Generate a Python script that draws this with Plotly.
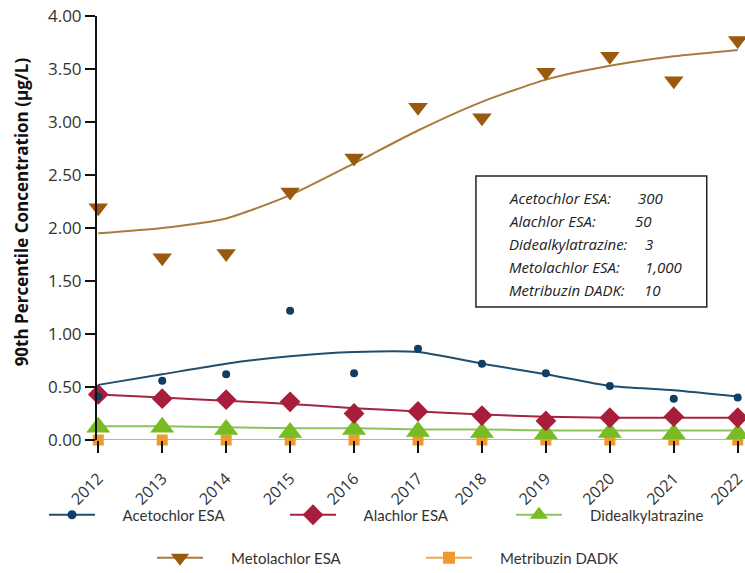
import plotly.graph_objects as go

years = [2012, 2013, 2014, 2015, 2016, 2017, 2018, 2019, 2020, 2021, 2022]

aceto_obs = [0.41, 0.56, 0.62, 1.22, 0.63, 0.86, 0.72, 0.63, 0.51, 0.39, 0.40]
aceto_trend = [0.52, 0.62, 0.72, 0.79, 0.83, 0.83, 0.72, 0.62, 0.51, 0.47, 0.41]

alach_obs = [0.43, 0.39, 0.38, 0.36, 0.25, 0.27, 0.23, 0.18, 0.21, 0.22, 0.21]
alach_trend = [0.43, 0.40, 0.37, 0.34, 0.30, 0.27, 0.24, 0.22, 0.21, 0.21, 0.21]

dideal_obs = [0.12, 0.12, 0.10, 0.07, 0.10, 0.08, 0.07, 0.06, 0.07, 0.06, 0.06]
dideal_trend = [0.13, 0.13, 0.12, 0.11, 0.11, 0.10, 0.10, 0.09, 0.09, 0.09, 0.09]

metol_obs = [2.19, 1.72, 1.76, 2.34, 2.66, 3.14, 3.04, 3.47, 3.62, 3.39, 3.77]
metol_trend = [1.95, 2.00, 2.09, 2.31, 2.61, 2.92, 3.19, 3.40, 3.53, 3.62, 3.68]

metri_obs = [0.0, 0.0, 0.0, 0.0, 0.0, 0.0, 0.0, 0.0, 0.0, 0.0, 0.0]
metri_trend = [0.0, 0.0, 0.0, 0.0, 0.0, 0.0, 0.0, 0.0, 0.0, 0.0, 0.0]

series_names = ["Acetochlor ESA", "Alachlor ESA", "Didealkylatrazine", "Metolachlor ESA", "Metribuzin DADK"]

box_labels = ["Acetochlor ESA:", "Alachlor ESA:", "Didealkylatrazine:", "Metolachlor ESA:", "Metribuzin DADK:"]
box_values = ["300", "50", "3", "1,000", "10"]
y_ticks = [0, 0.5, 1, 1.5, 2, 2.5, 3, 3.5, 4]
y_title = "90th Percentile Concentration (µg/L)"

W, H = 745, 573
X0, X1 = 2011.98, 2022.02
PX_PER_YEAR = 64.0
ML = 98 - (2012 - X0) * PX_PER_YEAR
MR = W - (738 + (X1 - 2022) * PX_PER_YEAR)
MT, MB = 16, 133
PW, PH = W - ML - MR, H - MT - MB

styles = [
    dict(line="#1F4E6E", marker="#0E3D66", symbol="circle", size=8, lsize=9, width=2),
    dict(line="#A3253F", marker="#A81D3A", symbol="diamond", size=16, lsize=16, width=2),
    dict(line="#8DC35C", marker="#78BB22", symbol="triangle-up", size=21, lsize=20, width=2),
    dict(line="#A97B3C", marker="#9A5A0E", symbol="triangle-down", size=17, lsize=16, width=2),
    dict(line="#F0A850", marker="#EE9A2E", symbol="square", size=11, lsize=12, width=2),
]
obs = [aceto_obs, alach_obs, dideal_obs, metol_obs, metri_obs]
trends = [aceto_trend, alach_trend, dideal_trend, metol_trend, metri_trend]

fig = go.Figure()
draw_order = [4, 2, 1, 0, 3]
for i in draw_order:
    s = styles[i]
    fig.add_trace(go.Scatter(x=years, y=trends[i], mode="lines", line=dict(color=s["line"], width=s["width"], shape="spline", smoothing=0.6),
                             showlegend=False, hoverinfo="skip", cliponaxis=False))
    fig.add_trace(go.Scatter(x=years, y=obs[i], mode="markers", marker=dict(color=s["marker"], symbol=s["symbol"], size=s["size"]),
                             showlegend=False, cliponaxis=False, name=series_names[i]))

# legend entries: each in its own legend so it can be placed like the reference
legend_ids = ["legend", "legend2", "legend3", "legend4", "legend5"]
leg_line_start = [50, 291, 517, 158, 427]
leg_row_y = [515, 515, 515, 558, 558]
pad = "\u00a0" * 6
for i in range(5):
    s = styles[i]
    fig.add_trace(go.Scatter(x=[None], y=[None], mode="lines+markers", name=pad + series_names[i],
                             line=dict(color=s["line"], width=2),
                             marker=dict(color=s["marker"], symbol=s["symbol"], size=s["lsize"]),
                             legend=legend_ids[i]))

legend_layout = {}
for i in range(5):
    legend_layout[legend_ids[i]] = dict(
        orientation="h", xref="container", yref="container",
        x=(leg_line_start[i] - 6) / W, y=1 - leg_row_y[i] / H, xanchor="left", yanchor="middle",
        font=dict(family="Lato", size=15, color="#333"), itemwidth=46,
        bgcolor="rgba(0,0,0,0)")

# text box
fig.add_shape(type="rect", xref="paper", yref="paper",
              x0=(476 - ML) / PW, x1=(707 - ML) / PW, y0=(MT + PH - 307) / PH, y1=(MT + PH - 176) / PH,
              line=dict(color="#222", width=1.5), fillcolor="white")
val_x = [636, 633, 643, 643, 642]
for k in range(5):
    ypix = 198 + k * 23
    fig.add_annotation(xref="paper", yref="paper", x=(507 - ML) / PW, y=(MT + PH - ypix) / PH, xanchor="left", yanchor="middle",
                       text="<i>" + box_labels[k] + "</i>", showarrow=False, font=dict(family="Open Sans", size=15, color="#222"))
    fig.add_annotation(xref="paper", yref="paper", x=(val_x[k] - ML) / PW, y=(MT + PH - ypix) / PH, xanchor="left", yanchor="middle",
                       text="<i>" + box_values[k] + "</i>", showarrow=False, font=dict(family="Open Sans", size=15, color="#222"))

# y-axis title
fig.add_annotation(xref="paper", yref="paper", x=(21 - ML) / PW, y=(MT + PH - 212) / PH, xanchor="center", yanchor="middle",
                   text="<b>" + y_title + "</b>", textangle=-90, showarrow=False,
                   font=dict(family="Open Sans", size=17, color="#111"))

fig.update_layout(
    width=W, height=H,
    margin=dict(l=ML, r=MR, t=MT, b=MB, autoexpand=False),
    plot_bgcolor="white", paper_bgcolor="white",
    font=dict(family="Open Sans", color="#333"),
    xaxis=dict(range=[X0, X1], tickmode="array", tickvals=years, ticktext=[str(y) for y in years], tickangle=-45, automargin=False,
               showgrid=False, zeroline=False, showline=False, ticks="outside", ticklen=12, tickwidth=2, tickcolor="#111",
               ticklabelstandoff=10, ticklabeloverflow="allow",
               tickfont=dict(size=16, color="#333", family="Open Sans")),
    yaxis=dict(range=[0, 4], tickvals=y_ticks, tickformat=".2f", showgrid=False, zeroline=False, automargin=False,
               showline=True, linecolor="#111", linewidth=2, ticks="outside", ticklen=10, tickwidth=2, tickcolor="#111",
               ticklabeloverflow="allow",
               tickfont=dict(size=17, color="#333", family="Open Sans")),
    **legend_layout,
)

fig.write_html("out.html", config={"displayModeBar": False}, post_script="document.body.style.margin='0';")
